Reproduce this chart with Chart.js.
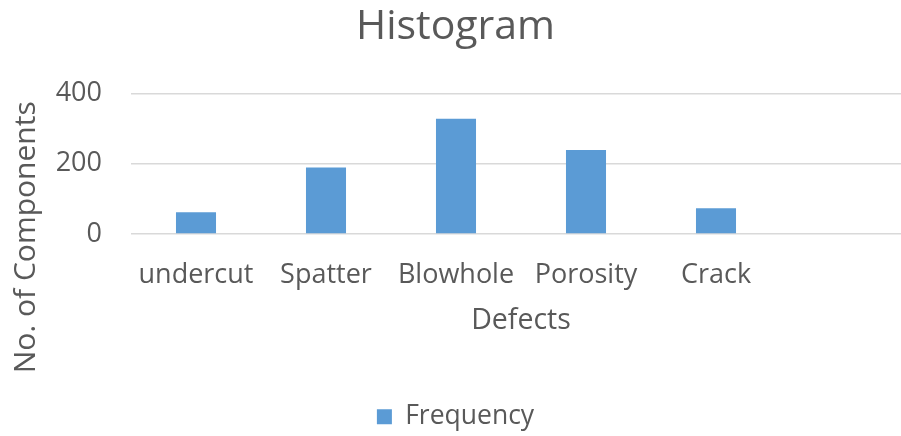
<!DOCTYPE html>
<html>
<head>
<meta charset="utf-8">
<script src="https://cdn.jsdelivr.net/npm/chart.js@4"></script>
<style>
  html, body { margin: 0; padding: 0; background: #fff; overflow: hidden; }
  #wrap { width: 901px; height: 436px; overflow: hidden; }
  canvas { display: block; }
</style>
</head>
<body>
<div id="wrap"><canvas id="c" width="911" height="436"></canvas></div>
<script>
const categories = ['undercut', 'Spatter', 'Blowhole', 'Porosity', 'Crack', ''];
const frequency = [62, 189, 328, 239, 73, null];
const yTicks = [0, 200, 400];

const txt = '#595959';
const fam = "'Open Sans', 'Noto Sans', sans-serif";

new Chart(document.getElementById('c'), {
  type: 'bar',
  data: {
    labels: categories,
    datasets: [{
      label: 'Frequency',
      data: frequency,
      backgroundColor: '#5B9BD5',
      borderWidth: 0,
      barPercentage: 1,
      categoryPercentage: 0.308
    }]
  },
  options: {
    responsive: false,
    animation: false,
    layout: { padding: { top: 0, left: 0, right: 0, bottom: -4 } },
    plugins: {
      title: {
        display: true,
        text: 'Histogram',
        color: txt,
        font: { family: fam, size: 41, weight: 'normal', lineHeight: 1.2 },
        padding: { top: 3, bottom: 41.3 }
      },
      legend: {
        display: true,
        position: 'bottom',
        labels: {
          color: txt,
          font: { family: fam, size: 26.5 },
          boxWidth: 15,
          boxHeight: 15,
          padding: 10
        }
      },
      tooltip: { enabled: false }
    },
    scales: {
      x: {
        afterFit: (s) => { s.height = 159.5; },
        grid: { display: false, drawTicks: false },
        border: { display: false },
        ticks: {
          color: txt,
          font: { family: fam, size: 27, lineHeight: 1.2 },
          padding: 24.8,
          maxRotation: 0,
          autoSkip: false
        },
        title: {
          display: true,
          text: 'Defects',
          color: txt,
          font: { family: fam, size: 28.5, lineHeight: 1.2 },
          padding: { top: 10, bottom: 55.4 }
        }
      },
      y: {
        min: 0,
        max: 400,
        afterBuildTicks: (s) => { s.ticks = yTicks.map(v => ({ value: v })); },
        afterFit: (s) => { s.width = 131; },
        grid: { color: '#d9d9d9', lineWidth: 1.5, drawTicks: false },
        border: { display: false },
        ticks: {
          color: txt,
          font: { family: fam, size: 27 },
          padding: 29
        },
        title: {
          display: true,
          text: 'No. of Components ',
          align: 'end',
          color: txt,
          font: { family: fam, size: 30, lineHeight: 1.2 },
          padding: { top: 8, bottom: 0 }
        }
      }
    }
  }
});
</script>
</body>
</html>
